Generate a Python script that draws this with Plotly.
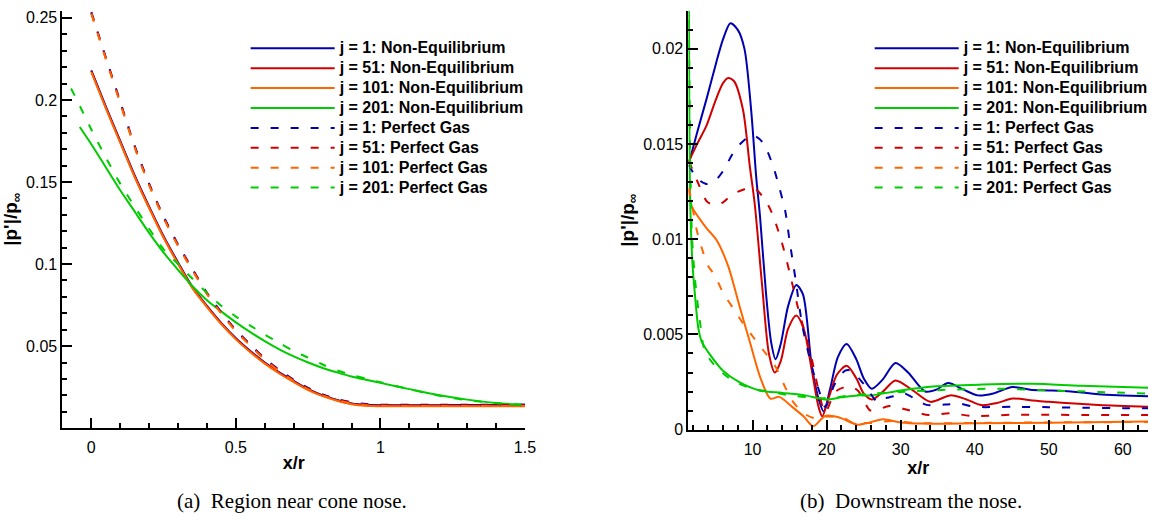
import plotly.graph_objects as go

# ---------------- data: (a) region near cone nose ----------------
a_ne_x = [0, 0.05, 0.1, 0.15, 0.2, 0.25, 0.3, 0.35, 0.4, 0.45, 0.5, 0.55, 0.6, 0.65, 0.7,
          0.75, 0.8, 0.85, 0.9, 0.95, 1.0, 1.1, 1.2, 1.3, 1.4, 1.5]
a_ne_j1 = [0.218, 0.196, 0.175, 0.154, 0.135, 0.117, 0.101, 0.086, 0.0745, 0.064, 0.0548, 0.047,
           0.040, 0.034, 0.0288, 0.0238, 0.0200, 0.0172, 0.0151, 0.0142, 0.0140, 0.0140, 0.0140,
           0.0141, 0.0141, 0.0142]
a_ne_j51 = [0.2175, 0.1955, 0.1745, 0.1535, 0.1345, 0.1165, 0.1005, 0.0856, 0.0742, 0.0637, 0.0545,
            0.0467, 0.0397, 0.0337, 0.0285, 0.0236, 0.0198, 0.0170, 0.0149, 0.0140, 0.0138, 0.0138,
            0.0138, 0.0138, 0.0138, 0.0138]
a_ne_j101 = [0.217, 0.195, 0.174, 0.153, 0.134, 0.116, 0.100, 0.0852, 0.0738, 0.0633, 0.0541,
             0.0463, 0.0393, 0.0333, 0.0281, 0.0232, 0.0195, 0.0167, 0.0146, 0.0136, 0.0134, 0.0133,
             0.0133, 0.0133, 0.0133, 0.0133]
a_ne_j201_x = [-0.04, 0, 0.05, 0.1, 0.15, 0.2, 0.25, 0.3, 0.35, 0.4, 0.45, 0.5, 0.55, 0.6, 0.65,
               0.7, 0.75, 0.8, 0.85, 0.9, 0.95, 1.0, 1.1, 1.2, 1.3, 1.4, 1.5]
a_ne_j201 = [0.1835, 0.173, 0.159, 0.145, 0.132, 0.119, 0.107, 0.0965, 0.0865, 0.078, 0.071, 0.0645,
             0.0585, 0.053, 0.048, 0.0437, 0.040, 0.0367, 0.034, 0.0315, 0.0295, 0.0276, 0.0238,
             0.0202, 0.0174, 0.0153, 0.0141]

a_pg_x = [0, 0.05, 0.1, 0.15, 0.2, 0.25, 0.3, 0.35, 0.4, 0.45, 0.5, 0.55, 0.6, 0.65, 0.7, 0.75,
          0.8, 0.85, 0.9, 0.95, 1.0, 1.1, 1.2, 1.3, 1.4, 1.5]
a_pg_j1 = [0.2535, 0.226, 0.199, 0.172, 0.149, 0.129, 0.112, 0.097, 0.0825, 0.0705, 0.0598, 0.051,
           0.0425, 0.0355, 0.0295, 0.0245, 0.0205, 0.0178, 0.0158, 0.0147, 0.0143, 0.0143, 0.0143,
           0.0143, 0.0142, 0.0142]
a_pg_j51 = [0.253, 0.2255, 0.1985, 0.1715, 0.1485, 0.1285, 0.1115, 0.0965, 0.0821, 0.0701, 0.0594,
            0.0506, 0.0421, 0.0351, 0.0291, 0.0241, 0.0202, 0.0175, 0.0155, 0.0144, 0.0140, 0.0140,
            0.0140, 0.0140, 0.0139, 0.0139]
a_pg_j101 = [0.2525, 0.225, 0.198, 0.171, 0.148, 0.128, 0.111, 0.096, 0.0817, 0.0697, 0.059, 0.0502,
             0.0417, 0.0347, 0.0287, 0.0237, 0.0198, 0.0171, 0.0151, 0.014, 0.0136, 0.0135, 0.0135,
             0.0135, 0.0135, 0.0135]
a_pg_j201_x = [-0.07, -0.05, 0, 0.05, 0.1, 0.15, 0.2, 0.25, 0.3, 0.35, 0.4, 0.45, 0.5, 0.55, 0.6,
               0.65, 0.7, 0.75, 0.8, 0.85, 0.9, 0.95, 1.0, 1.1, 1.2, 1.3, 1.4, 1.5]
a_pg_j201 = [0.207, 0.2, 0.182, 0.165, 0.149, 0.135, 0.1215, 0.109, 0.1, 0.091, 0.0825, 0.0745, 0.068,
             0.0625, 0.057, 0.052, 0.047, 0.043, 0.0388, 0.0352, 0.0325, 0.0302, 0.028, 0.0238,
             0.0199, 0.0171, 0.0153, 0.0143]

# ---------------- data: (b) downstream the nose ----------------
b_ne_j1_x = [1.4, 2.5, 3.8, 5.1, 6.0, 7.0, 8.0, 8.9, 9.8, 10.5, 11.0, 11.8, 12.5, 13.1, 13.8, 14.8,
             15.9, 16.8, 18.0, 19.0, 19.6, 20.5, 21.5, 22.7, 24.0, 25.0, 26.1, 27.5, 29.3, 31.0,
             33.3, 34.8, 36.4, 38.5, 40.4, 42.5, 45.1, 47.5, 50, 53, 56.7, 60, 63.4]
b_ne_j1 = [0.0140, 0.0156, 0.0174, 0.0193, 0.0205, 0.02135, 0.0210, 0.0200, 0.0168, 0.0132, 0.0112,
           0.0072, 0.0046, 0.0037, 0.0045, 0.0065, 0.0076, 0.0071, 0.0033, 0.0015, 0.00095, 0.0022,
           0.0038, 0.0045, 0.0037, 0.0027, 0.00215, 0.0026, 0.0035, 0.0030, 0.0020, 0.0021, 0.00245,
           0.0021, 0.0018, 0.0019, 0.00224, 0.0021, 0.00206, 0.0020, 0.00186, 0.0018, 0.00175]

b_ne_j51_x = [1.4, 2.5, 3.8, 5.0, 6.0, 6.7, 7.5, 8.7, 9.6, 10.3, 11.3, 12.2, 13.0, 13.8, 14.8, 15.9,
              16.9, 18.0, 18.9, 19.4, 20.3, 21.4, 22.7, 24.0, 25.0, 26.1, 27.6, 29.3, 31.5, 34.0,
              36.7, 38.8, 40.9, 43, 45.1, 47.5, 50, 56.7, 63.4]
b_ne_j51 = [0.0141, 0.0150, 0.0160, 0.0173, 0.0182, 0.01847, 0.0183, 0.0168, 0.0139, 0.0118, 0.0075,
            0.0040, 0.0030, 0.0036, 0.0053, 0.0060, 0.0053, 0.0031, 0.0012, 0.0007, 0.0017, 0.0029,
            0.00335, 0.0027, 0.0019, 0.00158, 0.0020, 0.00258, 0.0021, 0.00146, 0.0018, 0.0016,
            0.00129, 0.0014, 0.00163, 0.00155, 0.00146, 0.00129, 0.0012]

b_ne_j101_x = [1.4, 1.8, 2.8, 3.8, 5.1, 6.7, 8.2, 9.6, 11.1, 12.4, 13.6, 15.3, 16.9, 18.2, 19.8,
               21.6, 24.2, 25.5, 27.6, 30, 33, 40, 50, 63.4]
b_ne_j101 = [0.0126, 0.0117, 0.0111, 0.01057, 0.00997, 0.00859, 0.00653, 0.00464, 0.00267, 0.00163,
             0.00172, 0.00121, 0.00069, 0.00018, 0.00072, 0.00065, 0.00026, 0.00035, 0.00055,
             0.00038, 0.00032, 0.00033, 0.00036, 0.00043]

b_ne_j201_x = [1.4, 1.56, 1.87, 2.22, 2.67, 3.11, 4.22, 6.0, 8.2, 10.9, 14.0, 17.1, 20.0, 22, 24.2,
               26, 30, 34.4, 41.1, 47.8, 54.4, 63.4]
b_ne_j201 = [0.022, 0.0122, 0.00876, 0.00705, 0.00533, 0.00464, 0.00395, 0.00309, 0.00249, 0.00206,
             0.00193, 0.0018, 0.00158, 0.0017, 0.0018, 0.0018, 0.00206, 0.00227, 0.00237, 0.00241,
             0.0023, 0.0022]

b_pg_j1_x = [1.4, 2.5, 3.8, 5.0, 6.0, 7.8, 9.9, 11.3, 12.7, 13.6, 14.4, 15.0, 15.8, 16.7, 18.0, 19.1,
             19.8, 21.1, 22.5, 23.3, 25.0, 26.9, 27.8, 29.5, 30.5, 32.0, 33.5, 36.0, 38.0, 40, 45,
             50, 55, 60, 63.4]
b_pg_j1 = [0.0139, 0.0132, 0.0129, 0.0131, 0.01358, 0.01478, 0.01546, 0.01512, 0.01392, 0.01272,
           0.0115, 0.0099, 0.0079, 0.0055, 0.0033, 0.0019, 0.0012, 0.0024, 0.0031, 0.0031, 0.0024,
           0.00146, 0.00163, 0.0018, 0.0019, 0.0016, 0.0013, 0.00132, 0.00136, 0.0012, 0.0012,
           0.00118, 0.00115, 0.00113, 0.00112]

b_pg_j51_x = [1.4, 2.7, 3.8, 4.9, 6.0, 7.3, 8.9, 10.0, 10.9, 12.0, 12.7, 13.9, 15.0, 16.0, 17.2,
              18.0, 19.0, 19.8, 21.2, 23.0, 24.2, 25.8, 26.5, 28.5, 31, 33.8, 36.7, 39.6, 45, 50,
              55, 63.4]
b_pg_j51 = [0.0141, 0.0129, 0.0120, 0.01177, 0.01194, 0.01237, 0.01263, 0.01272, 0.01246, 0.01186,
            0.0113, 0.0099, 0.00825, 0.0066, 0.0049, 0.0037, 0.0019, 0.0009, 0.0020, 0.00227,
            0.00206, 0.00103, 0.0010, 0.00124, 0.00103, 0.00077, 0.00086, 0.00072, 0.00078,
            0.00078, 0.00077, 0.00077]

b_pg_j101_x = [1.4, 1.78, 2.44, 3.33, 4.0, 4.89, 6.0, 7.33, 8.67, 10.2, 11.78, 13.1, 14.2, 15.3,
               16.9, 18.4, 20.2, 22.4, 23.3, 26, 28.7, 32.2, 40, 50, 63.4]
b_pg_j101 = [0.0127, 0.0119, 0.0105, 0.0093, 0.0086, 0.0081, 0.0072, 0.0064, 0.0056, 0.0048, 0.0040,
             0.0033, 0.0024, 0.00155, 0.00086, 0.0006, 0.00069, 0.0006, 0.0004, 0.00035, 0.00046,
             0.00035, 0.00035, 0.00038, 0.0004]

b_pg_j201_x = [1.4, 1.78, 2.22, 2.89, 3.56, 5.11, 7.33, 10, 12.67, 15, 17.5, 20, 23.3, 26.5, 30,
               36.7, 43.3, 50, 56.7, 63.4]
b_pg_j201 = [0.0215, 0.01048, 0.0079, 0.00567, 0.00412, 0.00327, 0.00258, 0.00215, 0.00198, 0.0018,
             0.0017, 0.00165, 0.0018, 0.0019, 0.00198, 0.0021, 0.00215, 0.00206, 0.00198, 0.00189]

labels_ne = ["j = 1: Non-Equilibrium", "j = 51: Non-Equilibrium",
             "j = 101: Non-Equilibrium", "j = 201: Non-Equilibrium"]
labels_pg = ["j = 1: Perfect Gas", "j = 51: Perfect Gas",
             "j = 101: Perfect Gas", "j = 201: Perfect Gas"]
colors = ["#0000B0", "#D00000", "#FF6600", "#00CC00"]

x_title = "x/r"
y_title = "|p'|/p<sub>∞</sub>"
caption_a = "(a)  Region near cone nose."
caption_b = "(b)  Downstream the nose."

# ---------------- figure ----------------
W, H = 1161, 523
SANS = "Liberation Sans, Arial, sans-serif"
SERIF = "Liberation Serif, Times New Roman, serif"
DASH = "8px,12px"

fig = go.Figure()

a_ne = [(a_ne_x, a_ne_j1), (a_ne_x, a_ne_j51), (a_ne_x, a_ne_j101), (a_ne_j201_x, a_ne_j201)]
a_pg = [(a_pg_x, a_pg_j1), (a_pg_x, a_pg_j51), (a_pg_x, a_pg_j101), (a_pg_j201_x, a_pg_j201)]
b_ne = [(b_ne_j1_x, b_ne_j1), (b_ne_j51_x, b_ne_j51), (b_ne_j101_x, b_ne_j101), (b_ne_j201_x, b_ne_j201)]
b_pg = [(b_pg_j1_x, b_pg_j1), (b_pg_j51_x, b_pg_j51), (b_pg_j101_x, b_pg_j101), (b_pg_j201_x, b_pg_j201)]


def legend_label(s):
    return '<span style="font-size:16px"><b>' + s + '</b></span>'


for ne, pg, xa, ya, lg in [(a_ne, a_pg, "x", "y", "legend"), (b_ne, b_pg, "x2", "y2", "legend2")]:
    for i in range(4):
        x, y = ne[i]
        fig.add_trace(go.Scatter(x=x, y=y, mode="lines", name=legend_label(labels_ne[i]),
                                 line=dict(color=colors[i], width=2, shape="spline", smoothing=0.8),
                                 xaxis=xa, yaxis=ya, legend=lg, legendrank=i))
    for i in range(4):
        x, y = pg[i]
        fig.add_trace(go.Scatter(x=x, y=y, mode="lines", name=legend_label(labels_pg[i]),
                                 line=dict(color=colors[i], width=2, dash=DASH,
                                           shape="spline", smoothing=0.8),
                                 xaxis=xa, yaxis=ya, legend=lg, legendrank=10 + i))

axis_common = dict(showline=True, linecolor="black", linewidth=2, mirror=False,
                   showgrid=False, zeroline=False, ticks="inside", ticklen=10, tickwidth=2,
                   tickcolor="black", tickfont=dict(family=SANS, size=16, color="black"))
minor_common = dict(ticks="inside", ticklen=5, tickwidth=1.5, tickcolor="black")
xtitle_font = dict(family=SANS, size=18, color="black")
ytitle_font = dict(family=SANS, size=19, color="black")


def px2x(px):
    return px / W


def py2y(py):
    return (H - py) / H


fig.update_layout(
    width=W, height=H, margin=dict(l=0, r=0, t=0, b=0),
    paper_bgcolor="white", plot_bgcolor="white",
    font=dict(family=SANS, color="black"),
    xaxis=dict(domain=[px2x(63), px2x(530)], range=[-0.1, 1.5], dtick=0.5, tick0=0,
               minor=dict(dtick=0.1, **minor_common), ticklabelstandoff=4,
               title=dict(text="<b>" + x_title + "</b>", font=xtitle_font, standoff=2),
               anchor="y", **axis_common),
    yaxis=dict(domain=[py2y(435), py2y(10)], range=[0.0003, 0.2543], dtick=0.05, tick0=0,
               minor=dict(dtick=0.01, **minor_common),
               title=dict(text="<b>" + y_title + "</b>", font=ytitle_font, standoff=6),
               anchor="x", **axis_common),
    xaxis2=dict(domain=[px2x(695), px2x(1159)], range=[1.33, 63.4], dtick=10, tick0=0,
                minor=dict(dtick=2, **minor_common), ticklabelstandoff=4,
                title=dict(text="<b>" + x_title + "</b>", font=xtitle_font, standoff=2),
                anchor="y2", **axis_common),
    yaxis2=dict(domain=[py2y(437), py2y(10)], range=[0, 0.022], dtick=0.005, tick0=0,
                minor=dict(dtick=0.001, **minor_common),
                title=dict(text="<b>" + y_title + "</b>", font=ytitle_font, standoff=4),
                anchor="x2", **axis_common),
    legend=dict(x=px2x(248), y=py2y(33), xanchor="left", yanchor="top",
                bgcolor="rgba(0,0,0,0)", borderwidth=0, itemwidth=84,
                font=dict(family=SANS, size=13, color="black"), traceorder="normal"),
    legend2=dict(x=px2x(878), y=py2y(33), xanchor="left", yanchor="top",
                 bgcolor="rgba(0,0,0,0)", borderwidth=0, itemwidth=84,
                 font=dict(family=SANS, size=13, color="black"), traceorder="normal"),
    showlegend=True,
)

fig.add_annotation(x=px2x(295), y=py2y(510), xref="paper", yref="paper", text=caption_a,
                   xanchor="center", yanchor="middle", showarrow=False,
                   font=dict(family=SERIF, size=21, color="black"))
fig.add_annotation(x=px2x(920), y=py2y(510), xref="paper", yref="paper", text=caption_b,
                   xanchor="center", yanchor="middle", showarrow=False,
                   font=dict(family=SERIF, size=21, color="black"))

fig.write_html("out.html")
